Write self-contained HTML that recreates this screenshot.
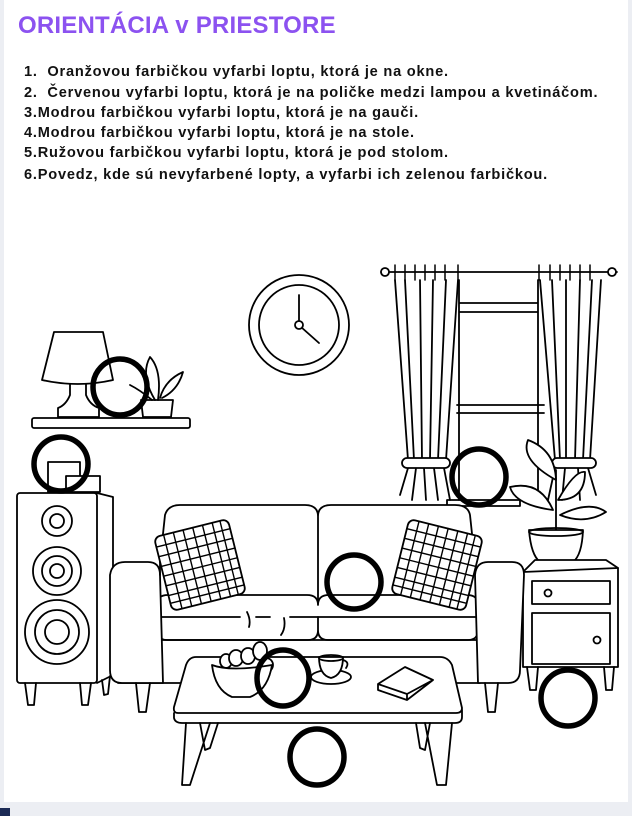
<!DOCTYPE html>
<html><head><meta charset="utf-8"><style>
html,body{margin:0;padding:0;width:632px;height:816px;overflow:hidden;background:#eceef3;}
.card{position:absolute;left:4px;top:0;width:624px;height:802px;background:#fff;}
.t{position:absolute;left:18px;top:12px;font:bold 24px "Liberation Sans",sans-serif;color:#8c52f0;letter-spacing:0.2px;}
.l{position:absolute;left:24px;font:bold 14.6px "Liberation Sans",sans-serif;color:#111;white-space:nowrap;letter-spacing:0.78px;}
svg{position:absolute;left:0;top:0;}
</style></head><body>
<div class="card"></div>
<div class="t">ORIENTÁCIA v PRIESTORE</div>
<div class="l" style="top:64px">1.&nbsp; Oranžovou farbičkou vyfarbi loptu, ktorá je na okne.</div>
<div class="l" style="top:85px">2.&nbsp; Červenou vyfarbi loptu, ktorá je na poličke medzi lampou a kvetináčom.</div>
<div class="l" style="top:105px">3.Modrou farbičkou vyfarbi loptu, ktorá je na gauči.</div>
<div class="l" style="top:125px">4.Modrou farbičkou vyfarbi loptu, ktorá je na stole.</div>
<div class="l" style="top:145px">5.Ružovou farbičkou vyfarbi loptu, ktorá je pod stolom.</div>
<div class="l" style="top:167px">6.Povedz, kde sú nevyfarbené lopty, a vyfarbi ich zelenou farbičkou.</div>
<div style="position:absolute;left:0;top:808px;width:10px;height:8px;background:#1b2a55"></div>
<svg width="632" height="816" viewBox="0 0 632 816" fill="none" stroke="#000" stroke-width="1.8" stroke-linejoin="round" stroke-linecap="round">
<!-- clock -->
<circle cx="299" cy="325" r="50" fill="#fff"/><circle cx="299" cy="325" r="40"/>
<line x1="299" y1="295" x2="299" y2="322"/><line x1="301" y1="327" x2="319" y2="343"/><circle cx="299" cy="325" r="4" fill="#fff"/>
<!-- shelf -->
<rect x="32" y="418" width="158" height="10" rx="2" fill="#fff"/>
<path d="M54 332 L103 332 L113 380 Q78 388 42 380 Z" fill="#fff"/>
<path d="M70 384 L70 395 Q66 405 58 408 L58 417 L99 417 L99 408 Q90 405 86 395 L86 384"/>
<path d="M141 400 L173 400 L171 417 L143 417 Z" fill="#fff"/>
<path d="M155 400 Q140 375 150 357 Q162 370 158 400"/><path d="M160 398 Q165 380 183 372 Q178 390 162 398"/><path d="M152 400 Q140 390 130 385"/>
<!-- window -->
<line x1="381" y1="272" x2="617" y2="272"/><circle cx="385" cy="272" r="4" fill="#fff"/><circle cx="612" cy="272" r="4" fill="#fff"/>
<g stroke-width="1.5">
<line x1="395" y1="265" x2="395" y2="280"/><line x1="405" y1="265" x2="405" y2="280"/><line x1="415" y1="265" x2="415" y2="280"/><line x1="425" y1="265" x2="425" y2="280"/><line x1="435" y1="265" x2="435" y2="280"/><line x1="445" y1="265" x2="445" y2="280"/><line x1="458" y1="265" x2="458" y2="280"/>
<line x1="539" y1="265" x2="539" y2="280"/><line x1="550" y1="265" x2="550" y2="280"/><line x1="560" y1="265" x2="560" y2="280"/><line x1="570" y1="265" x2="570" y2="280"/><line x1="580" y1="265" x2="580" y2="280"/><line x1="590" y1="265" x2="590" y2="280"/>
</g>
<path d="M459 280 L459 500 M538 280 L538 500 M459 303 L538 303 M459 312 L538 312 M457 405 L544 405 M457 413 L544 413"/>
<path d="M395 280 L408 460 M405 280 L414 460 M420 280 L422 460 M433 280 L430 460 M446 280 L438 460 M458 280 L446 460"/>
<path d="M408 468 L400 495 M416 468 L412 500 M424 468 L426 500 M434 468 L438 500 M444 468 L450 500"/>
<rect x="402" y="458" width="48" height="10" rx="5" fill="#fff"/>
<path d="M601 280 L590 460 M592 280 L583 460 M580 280 L575 460 M566 280 L566 460 M552 280 L560 460 M540 280 L555 460"/>
<path d="M555 468 L548 500 M565 468 L562 500 M578 468 L580 500 M588 468 L596 495"/>
<rect x="552" y="458" width="44" height="10" rx="5" fill="#fff"/>
<path d="M447 500 L520 500 L520 506 L447 506 Z"/>
<!-- plant -->
<path d="M556 535 L556 470"/>
<path d="M556 480 Q520 460 528 440 Q555 450 556 480 Z" fill="#fff"/>
<path d="M553 510 Q515 505 510 487 Q540 480 553 510 Z" fill="#fff"/>
<path d="M558 500 Q575 470 585 472 Q585 500 558 500 Z" fill="#fff"/>
<path d="M560 515 Q590 500 606 512 Q585 525 560 515 Z" fill="#fff"/>
<path d="M529 530 L583 530 Q582 555 573 562 L540 562 Q531 555 529 530 Z" fill="#fff"/><ellipse cx="556" cy="532" rx="27" ry="4"/>
<!-- side table -->
<path d="M523 572 L535 560 L606 560 L618 568 L618 667 L523 667 Z" fill="#fff"/><path d="M523 572 L618 568"/>
<rect x="532" y="581" width="78" height="23"/><circle cx="548" cy="593" r="3.5"/>
<rect x="532" y="613" width="78" height="51"/><circle cx="597" cy="640" r="3.5"/>
<path d="M527 667 L530 690 L536 690 L538 667 M604 667 L606 690 L612 690 L614 667"/>
<!-- speaker -->
<rect x="48" y="462" width="32" height="30" fill="#fff"/><rect x="66" y="476" width="34" height="16" fill="#fff"/>
<path d="M97 493 L113 497 L113 675 L97 683"/>
<rect x="17" y="493" width="80" height="190" rx="3" fill="#fff"/>
<circle cx="57" cy="521" r="15"/><circle cx="57" cy="521" r="7"/>
<circle cx="57" cy="571" r="24"/><circle cx="57" cy="571" r="15"/><circle cx="57" cy="571" r="7"/>
<circle cx="57" cy="632" r="32"/><circle cx="57" cy="632" r="22"/><circle cx="57" cy="632" r="12"/>
<path d="M25 683 L28 705 L34 705 L36 683 M80 683 L82 705 L88 705 L91 683 M102 680 L104 695 L108 694 L110 676"/>
<!-- sofa -->
<path d="M160 562 L165 515 Q168 505 180 505 L305 505 Q317 505 318 515 Q319 505 331 505 L455 505 Q468 505 470 515 L475 562" fill="#fff"/>
<line x1="318" y1="515" x2="318" y2="600"/>
<path d="M118 683 L480 683 L480 640 L155 640 L155 683" fill="#fff"/>
<path d="M157 617 L157 630 Q157 640 167 640 L308 640 Q318 640 318 630 L318 617 M318 630 Q318 640 328 640 L468 640 Q478 640 478 630 L478 617"/>
<path d="M157 617 L157 605 Q157 595 168 595 L307 595 Q318 595 318 605 Q318 595 329 595 L467 595 Q478 595 478 605 L478 617"/>
<path d="M157 617 L240 617 M256 617 L270 617 M290 617 L478 617 M247 612 Q251 620 249 627 M284 618 Q286 628 281 635"/>
<path d="M110 575 Q112 562 125 562 L148 562 Q160 562 160 575 L163 683 L122 683 Q110 683 110 670 Z" fill="#fff"/>
<path d="M160 575 L160 562 M475 575 Q476 562 488 562 L512 562 Q524 562 524 575 L520 670 Q520 683 508 683 L478 683 Z" fill="#fff"/>
<path d="M136 683 L139 712 L146 712 L150 683 M485 683 L488 712 L495 712 L498 683"/>
<!-- pillows -->
<g transform="rotate(-14 200 565)">
<rect x="162" y="527" width="76" height="76" rx="6" fill="#fff"/>
<g stroke-width="1.4">
<path d="M162 537 L238 537 M162 547 L238 547 M162 557 L238 557 M162 567 L238 567 M162 577 L238 577 M162 587 L238 587 M162 595 L238 595"/>
<path d="M172 527 L172 603 M182 527 L182 603 M192 527 L192 603 M202 527 L202 603 M212 527 L212 603 M222 527 L222 603 M230 527 L230 603"/>
</g></g>
<g transform="rotate(14 437 565)">
<rect x="399" y="527" width="76" height="76" rx="6" fill="#fff"/>
<g stroke-width="1.4">
<path d="M399 537 L475 537 M399 547 L475 547 M399 557 L475 557 M399 567 L475 567 M399 577 L475 577 M399 587 L475 587 M399 595 L475 595"/>
<path d="M409 527 L409 603 M419 527 L419 603 M429 527 L429 603 M439 527 L439 603 M449 527 L449 603 M459 527 L459 603 M467 527 L467 603"/>
</g></g>
<!-- coffee table -->
<path d="M196 657 L440 657 Q448 657 452 665 L462 708 Q462 713 456 713 L178 713 Q173 713 174 707 L186 665 Q189 657 196 657 Z" fill="#fff"/>
<path d="M174 713 L174 718 Q175 723 182 723 L455 723 Q462 723 462 717 L462 710"/>
<path d="M186 723 L182 785 L190 785 L210 723 M200 723 L205 750 L210 748 L218 723 M425 723 L437 785 L446 785 L452 723 M416 723 L420 748 L425 750 L430 723"/>
<!-- bowl -->
<ellipse cx="226" cy="661" rx="6" ry="7" fill="#fff"/><ellipse cx="236" cy="658" rx="7" ry="8" fill="#fff"/><ellipse cx="248" cy="656" rx="7" ry="8" fill="#fff"/><ellipse cx="260" cy="651" rx="7" ry="9" fill="#fff"/><ellipse cx="266" cy="665" rx="7" ry="7" fill="#fff"/>
<path d="M212 665 Q230 672 272 665 Q268 690 250 697 L232 697 Q215 690 212 665 Z" fill="#fff"/>
<!-- cup -->
<ellipse cx="331" cy="677" rx="20" ry="7" fill="#fff"/>
<path d="M319 657 L343 657 Q343 675 331 678 Q319 675 319 657 Z" fill="#fff"/><ellipse cx="331" cy="658" rx="12" ry="3"/>
<path d="M343 660 Q350 662 346 668"/>
<!-- book -->
<path d="M378 684 L405 667 L433 680 L407 700 L378 690 Z M378 684 L407 694 L433 680 M407 694 L407 700" fill="#fff"/>
<!-- balls -->
<g stroke-width="5.5">
<ellipse cx="120" cy="387" rx="27" ry="28"/>
<ellipse cx="61" cy="464" rx="27" ry="27"/>
<ellipse cx="479" cy="477" rx="27" ry="28"/>
<ellipse cx="354" cy="582" rx="27" ry="27"/>
<ellipse cx="283" cy="678" rx="26" ry="28"/>
<ellipse cx="317" cy="757" rx="27" ry="28"/>
<ellipse cx="568" cy="698" rx="27" ry="28"/>
</g>
</svg>
</body></html>
